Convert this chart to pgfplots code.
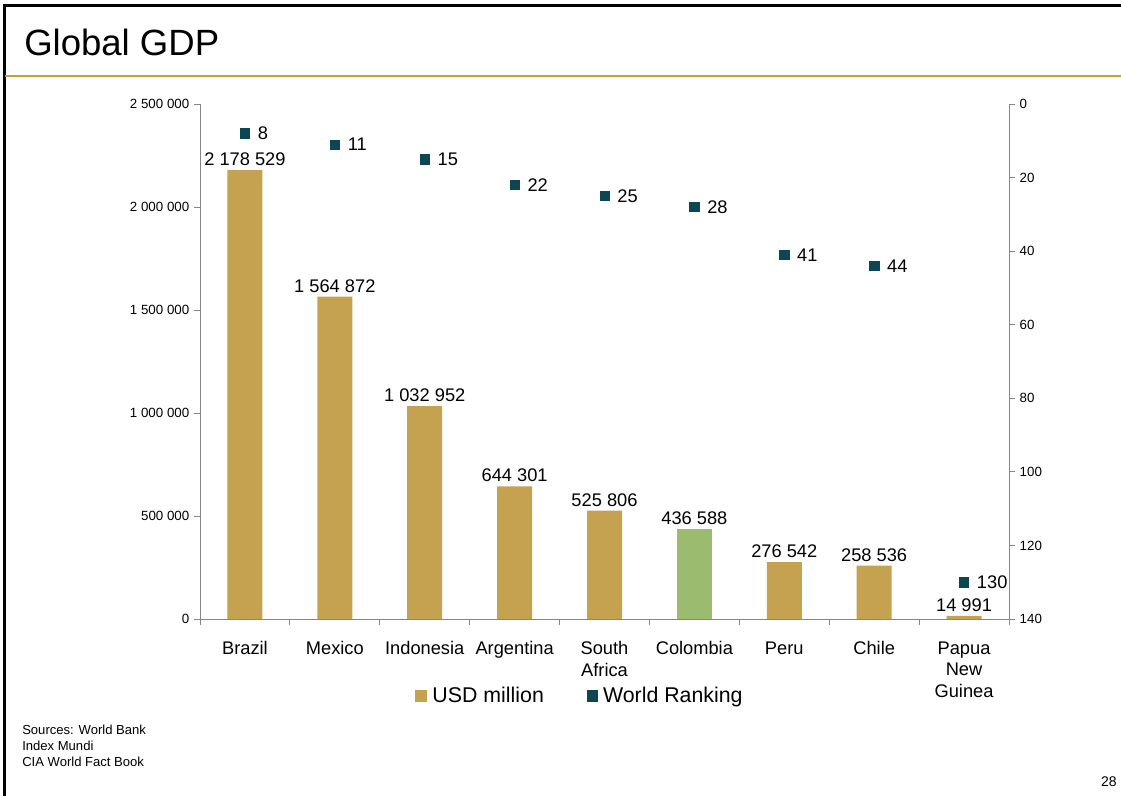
\documentclass[border=0pt]{standalone}
\usepackage{pgfplots}
\pgfplotsset{compat=1.18}
\usepackage{fontspec}
\setmainfont{Liberation Sans}
\definecolor{gold}{RGB}{196,162,80}
\definecolor{leaf}{RGB}{155,187,111}
\definecolor{teal2}{RGB}{12,70,82}
\definecolor{axgray}{RGB}{134,134,134}
\definecolor{rulegold}{RGB}{200,158,50}
\begin{document}
\begin{tikzpicture}
\begin{scope}[x=0.75pt,y=0.75pt]
\path[use as bounding box] (0,0) rectangle (1121,796);
\draw[black,line width=2.25pt] (3,790) -- (1121,790);
\draw[black,line width=2.25pt] (4.5,791) -- (4.5,0);
\draw[rulegold,line width=1.1pt] (4.5,720) -- (1121,720);
\node[anchor=base west,inner sep=0pt,font=\fontsize{27.4}{32}\selectfont] at (24,740) {Global GDP};
\node[anchor=base west,inner sep=0pt,align=left,font=\fontsize{9.8}{12.2}\selectfont] at (22,29) {Sources: World Bank\\Index Mundi\\CIA World Fact Book};
\node[anchor=base east,inner sep=0pt,font=\fontsize{10.5}{12}\selectfont] at (1117,9) {28};
\end{scope}

\begin{axis}[
  at={(150pt,132.75pt)}, anchor=south west,
  scale only axis, width=606.75pt, height=386.25pt,
  xmin=-0.5, xmax=8.5, ymin=0, ymax=2500000,
  clip=false,
  axis x line*=bottom, axis y line*=left,
  axis line style={axgray, line width=0.6pt},
  ybar, bar width=26.25pt, bar shift=0pt,
  xtick={0,...,8},
  xticklabels={Brazil,Mexico,Indonesia,Argentina,{South\\Africa},Colombia,Peru,Chile,{Papua\\New\\Guinea}},
  xticklabel style={align=center, font=\fontsize{13.7}{16.2}\selectfont, yshift=-9pt},
  major x tick style={draw=none},
  minor xtick={-0.5,0.5,...,8.5},
  tick align=outside,
  tick style={axgray, line width=0.6pt},
  major tick length=4.5pt, minor tick length=4.5pt,
  ytick={0,500000,1000000,1500000,2000000,2500000},
  yticklabels={0,500 000,1 000 000,1 500 000,2 000 000,2 500 000},
  scaled y ticks=false,
  yticklabel style={font=\fontsize{10}{12}\selectfont},
  point meta=explicit symbolic,
  nodes near coords,
  every node near coord/.append style={font=\fontsize{13.7}{16}\selectfont, inner sep=0pt, yshift=3pt, anchor=south, text=black},
  legend style={at={(0.47,-0.1495)}, anchor=center, draw=none, fill=none,
    font=\fontsize{16}{19}\selectfont, column sep=2pt,
    /tikz/every even column/.append style={column sep=30pt}},
  legend columns=2,
  legend cell align=left,
]
\addplot[fill=gold, draw=none,
  legend image code/.code={\fill[gold] (0pt,-4.5pt) rectangle (9pt,4.5pt);}]
  coordinates {(0,2178529) [2 178 529] (1,1564872) [1 564 872] (2,1032952) [1 032 952]
  (3,644301) [644 301] (4,525806) [525 806] (6,276542) [276 542] (7,258536) [258 536]
  (8,14991) [14 991]};
\addlegendentry{USD million}
\addplot[fill=leaf, draw=none, forget plot] coordinates {(5,436588) [436 588]};
\addlegendimage{legend image code/.code={\fill[teal2] (0pt,-4pt) rectangle (8pt,4pt);}}
\addlegendentry{World Ranking}
\end{axis}

\begin{axis}[
  at={(150pt,132.75pt)}, anchor=south west,
  scale only axis, width=606.75pt, height=386.25pt,
  xmin=-0.5, xmax=8.5, ymin=0, ymax=140, y dir=reverse,
  clip=false,
  axis x line=none, axis y line*=right,
  axis line style={axgray, line width=0.6pt},
  tick align=outside,
  tick style={axgray, line width=0.6pt},
  major tick length=4.5pt,
  ytick={0,20,...,140},
  yticklabels={0,20,40,60,80,100,120,140},
  yticklabel style={font=\fontsize{10}{12}\selectfont},
  point meta=explicit symbolic,
]
\addplot[only marks, mark=square*, mark size=3.5pt, color=teal2,
  nodes near coords,
  every node near coord/.append style={font=\fontsize{13.7}{16}\selectfont, inner sep=0pt, anchor=west, xshift=9.5pt, text=black}]
  coordinates {(0,8) [8] (1,11) [11] (2,15) [15] (3,22) [22] (4,25) [25] (5,28) [28]
  (6,41) [41] (7,44) [44] (8,130) [130]};
\end{axis}
\end{tikzpicture}
\end{document}
